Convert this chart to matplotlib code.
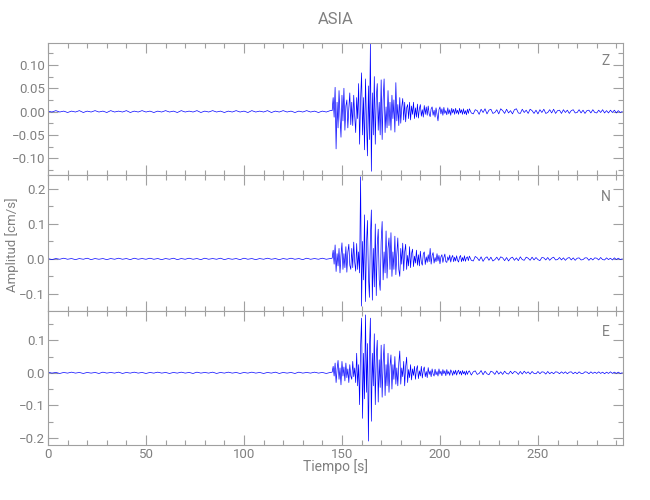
import numpy as np
import matplotlib
matplotlib.use("Agg")
import matplotlib.pyplot as plt
from matplotlib.ticker import MultipleLocator, FixedLocator

# ---------------- data ----------------
title = "ASIA"
components = ["Z", "N", "E"]
xlabel = "Tiempo [s]"
ylabel = "Amplitud [cm/s]"
x_limits = (0, 293.4)
x_ticks = [0, 50, 100, 150, 200, 250]

# sampled segments: (start time [s], sample step [s])
pre_start, pre_step = 0.0, 2.0      # quiet part before the arrival
main_start, main_step = 145.0, 0.5  # strong motion
tail_start, tail_step = 215.0, 1.0  # coda

z_pre = [0.001, -0.001, 0.002, -0.001, 0.001, -0.002, 0.001, -0.001, 0.002, -0.002,
         0.001, -0.001, 0.002, -0.001, 0.001, -0.002, 0.002, -0.001, 0.001, -0.001,
         0.002, -0.002, 0.001, -0.001, 0.002, -0.001, 0.001, -0.002, 0.001, -0.001,
         0.002, -0.001, 0.001, -0.002, 0.002, -0.001, 0.001, -0.001, 0.002, -0.002,
         0.001, -0.001, 0.002, -0.001, 0.001, -0.002, 0.001, -0.001, 0.002, -0.001,
         0.001, -0.002, 0.002, -0.001, 0.001, -0.001, 0.002, -0.002, 0.001, -0.001,
         0.002, -0.001, 0.001, -0.002, 0.001, -0.001, 0.002, -0.001, 0.001, -0.002,
         0.001, -0.001, 0.002]
n_pre = [0.001, -0.002, 0.001, -0.001, 0.002, -0.001, 0.001, -0.002, 0.001, -0.001,
         0.002, -0.002, 0.001, -0.001, 0.001, -0.002, 0.001, -0.001, 0.002, -0.001,
         0.001, -0.002, 0.002, -0.001, 0.001, -0.001, 0.002, -0.001, 0.001, -0.002,
         0.001, -0.001, 0.002, -0.002, 0.001, -0.001, 0.002, -0.001, 0.001, -0.002,
         0.002, -0.001, 0.001, -0.001, 0.002, -0.002, 0.001, -0.001, 0.001, -0.002,
         0.002, -0.001, 0.001, -0.002, 0.001, -0.001, 0.002, -0.001, 0.001, -0.002,
         0.001, -0.001, 0.002, -0.001, 0.001, -0.002, 0.002, -0.001, 0.001, -0.001,
         0.002, -0.001, 0.001]
e_pre = [0.002, -0.001, 0.001, -0.002, 0.001, -0.001, 0.002, -0.001, 0.001, -0.002,
         0.001, -0.001, 0.001, -0.002, 0.002, -0.001, 0.001, -0.001, 0.002, -0.002,
         0.001, -0.001, 0.002, -0.001, 0.001, -0.002, 0.001, -0.001, 0.002, -0.001,
         0.001, -0.002, 0.001, -0.001, 0.002, -0.001, 0.001, -0.002, 0.002, -0.001,
         0.001, -0.001, 0.002, -0.002, 0.001, -0.001, 0.002, -0.001, 0.001, -0.002,
         0.001, -0.001, 0.002, -0.001, 0.001, -0.002, 0.001, -0.001, 0.002, -0.002,
         0.001, -0.001, 0.001, -0.002, 0.002, -0.001, 0.001, -0.001, 0.002, -0.001,
         0.001, -0.002, 0.001]

z_main = [0.002, 0.030, -0.012, 0.052, -0.080, 0.020, -0.035, 0.045, -0.010, -0.055,
          0.035, -0.020, 0.050, -0.040, 0.012, 0.025, -0.035, 0.008, 0.040, -0.028,
          0.020, -0.030, 0.035, -0.010, -0.045, 0.030, -0.015, 0.060, -0.070, 0.025,
          0.083, -0.050, 0.030, -0.082, 0.070, -0.020, -0.095, 0.055, -0.060, 0.145,
          -0.128, 0.040, -0.050, 0.075, -0.070, 0.030, 0.060, -0.040, 0.020, -0.050,
          0.068, -0.060, 0.025, 0.070, -0.045, 0.010, -0.035, 0.045, -0.030, 0.020,
          -0.040, 0.035, -0.015, 0.025, -0.044, 0.062, -0.020, 0.015, -0.030, 0.030,
          -0.025, 0.010, 0.028, -0.018, 0.020, -0.022, 0.008, 0.015, -0.015, 0.020,
          -0.018, 0.012, -0.006, 0.020, -0.015, 0.008, -0.012, 0.016, -0.014, 0.006,
          0.015, -0.010, 0.004, -0.012, 0.013, -0.006, 0.010, -0.008, 0.012, -0.005,
          -0.011, 0.006, 0.010, -0.008, 0.003, -0.012, 0.008, -0.006, -0.020, 0.004,
          0.010, -0.005, 0.006, -0.008, 0.009, -0.004, 0.002, -0.007, 0.008, -0.005,
          0.004, -0.008, 0.007, -0.003, 0.005, -0.006, 0.007, -0.004, 0.003, -0.006,
          0.007, -0.003, 0.004, -0.006, 0.006, -0.005, 0.002, -0.007, 0.005, -0.004]
z_tail = [0.006, -0.003, -0.005, 0.004, 0.002, -0.006, 0.005, -0.002, 0.006, -0.005,
          0.003, 0.005, -0.004, -0.002, 0.004, -0.005, 0.006, 0.002, -0.004, 0.005,
          -0.003, 0.002, -0.005, 0.004, 0.006, -0.003, -0.004, 0.005, -0.002, 0.003,
          -0.004, 0.005, 0.002, -0.004, 0.003, -0.005, 0.004, -0.002, 0.005, -0.004,
          -0.002, 0.004, -0.003, 0.005, -0.004, 0.002, 0.003, -0.004, 0.004, -0.002,
          0.003, -0.004, 0.002, 0.004, -0.003, -0.002, 0.004, -0.003, 0.003, -0.004,
          0.002, 0.003, -0.003, 0.004, -0.002, -0.003, 0.003, -0.002, 0.004, -0.003,
          0.002, -0.003, 0.003, -0.002, 0.003, -0.003, 0.002, -0.002, 0.000]

n_main = [0.002, 0.025, -0.015, 0.040, -0.036, 0.015, -0.020, 0.030, -0.040, 0.010,
          0.046, -0.030, 0.015, -0.025, 0.035, -0.038, 0.020, 0.042, -0.018, -0.030,
          0.030, -0.025, 0.048, -0.010, -0.035, 0.044, -0.030, 0.020, -0.040, 0.235,
          -0.135, 0.050, -0.060, 0.126, -0.122, 0.040, 0.110, -0.050, -0.110, 0.060,
          0.140, -0.118, 0.030, -0.080, 0.100, -0.105, 0.040, 0.085, -0.060, -0.090,
          0.050, 0.107, -0.060, 0.020, -0.040, 0.080, -0.055, 0.030, 0.060, -0.030,
          0.075, -0.050, 0.020, -0.030, 0.065, -0.045, 0.015, 0.060, -0.030, -0.050,
          0.030, -0.015, 0.045, -0.034, 0.020, 0.042, -0.030, 0.010, -0.020, 0.035,
          -0.025, 0.015, 0.028, -0.022, 0.008, -0.012, 0.025, -0.018, 0.012, -0.020,
          0.022, -0.010, -0.018, 0.015, 0.020, -0.016, 0.006, -0.010, 0.012, -0.008,
          0.030, -0.015, 0.010, 0.018, -0.012, 0.004, -0.008, 0.015, -0.006, 0.010,
          -0.014, 0.006, 0.012, -0.010, 0.004, 0.014, -0.008, -0.010, 0.006, -0.004,
          0.011, -0.009, 0.004, 0.010, -0.008, 0.005, -0.006, 0.009, -0.004, -0.009,
          0.005, 0.010, -0.008, 0.004, -0.006, 0.009, -0.007, 0.003, 0.006, -0.005]
n_tail = [0.008, -0.004, -0.006, 0.007, 0.003, -0.005, 0.006, -0.007, 0.002, 0.006,
          -0.004, 0.005, -0.006, -0.002, 0.005, -0.004, 0.006, 0.003, -0.005, 0.004,
          -0.006, 0.002, 0.005, -0.004, 0.003, -0.005, 0.006, -0.002, -0.004, 0.005,
          0.002, -0.004, 0.005, -0.003, 0.004, -0.002, -0.005, 0.004, 0.003, -0.003,
          0.004, -0.004, 0.002, 0.005, -0.003, -0.002, 0.004, -0.003, 0.003, -0.004,
          0.002, 0.004, -0.003, 0.003, -0.004, 0.002, 0.003, -0.003, -0.002, 0.003,
          0.003, -0.004, 0.002, -0.003, 0.003, 0.002, -0.003, 0.004, -0.002, -0.003,
          0.003, -0.002, 0.002, -0.003, 0.003, -0.002, 0.002, -0.002, 0.000]

e_main = [0.002, 0.020, -0.010, 0.030, -0.030, 0.010, 0.038, -0.020, 0.015, -0.037,
          0.035, -0.010, 0.018, -0.025, 0.030, -0.015, 0.012, -0.030, 0.025, -0.010,
          -0.020, 0.035, -0.012, 0.015, -0.030, 0.060, -0.040, 0.025, -0.098, 0.080,
          0.168, -0.140, 0.060, -0.080, 0.178, -0.060, 0.090, -0.210, 0.070, 0.168,
          -0.149, 0.060, -0.040, 0.120, -0.098, 0.050, 0.100, -0.090, 0.040, -0.045,
          0.085, -0.075, 0.030, 0.088, -0.070, 0.025, -0.040, 0.060, -0.060, 0.020,
          0.055, -0.050, 0.025, -0.020, 0.050, -0.035, 0.015, -0.040, 0.030, 0.067,
          -0.035, 0.015, -0.012, 0.035, -0.040, 0.020, 0.048, -0.030, 0.010, -0.015,
          0.025, -0.022, 0.012, -0.008, 0.020, -0.020, 0.010, 0.022, -0.018, 0.006,
          -0.010, 0.020, -0.016, 0.008, 0.018, -0.012, 0.004, -0.015, 0.016, -0.005,
          0.006, -0.012, 0.012, -0.004, -0.010, 0.011, -0.006, 0.004, -0.010, 0.012,
          -0.004, 0.005, -0.009, 0.010, -0.003, 0.006, -0.009, 0.010, -0.004, 0.004,
          -0.008, 0.009, 0.003, -0.008, 0.006, -0.004, 0.008, -0.007, 0.003, 0.008,
          -0.004, 0.005, -0.007, 0.007, -0.003, 0.004, -0.007, 0.006, -0.005, 0.003]
e_tail = [0.006, -0.007, 0.003, 0.006, -0.005, -0.002, 0.007, -0.006, 0.005, -0.003,
          -0.006, 0.005, 0.002, -0.005, 0.006, -0.004, 0.003, -0.005, 0.005, -0.002,
          -0.004, 0.005, -0.003, 0.004, 0.002, -0.005, 0.004, -0.004, 0.005, -0.002,
          0.003, -0.004, 0.004, -0.002, -0.003, 0.004, -0.003, 0.003, 0.002, -0.004,
          0.004, -0.003, 0.002, -0.003, 0.003, 0.002, -0.003, 0.003, -0.002, 0.003,
          -0.003, 0.002, 0.003, -0.003, 0.002, -0.003, 0.003, -0.002, -0.002, 0.003,
          0.002, -0.003, 0.003, -0.002, 0.002, -0.002, 0.003, -0.002, 0.002, -0.003,
          0.002, -0.002, 0.003, -0.002, 0.002, -0.002, 0.002, -0.002, 0.000]

y_limits = [(-0.136, 0.147), (-0.149, 0.240), (-0.222, 0.190)]
y_minor = [0.025, 0.05, 0.05]
y_ticklabels = [["-0.10", "-0.05", "0.00", "0.05", "0.10", "0.15"],
                ["-0.1", "0.0", "0.1", "0.2"],
                ["-0.2", "-0.1", "0.0", "0.1"]]

traces = [(z_pre, z_main, z_tail), (n_pre, n_main, n_tail), (e_pre, e_main, e_tail)]

# ---------------- style ----------------
FONT = ["Roboto", "DejaVu Sans"]
plt.rcParams["font.family"] = FONT
plt.rcParams["font.weight"] = "normal"
GREY = "#808080"
AXGREY = "#a0a0a0"
LINE = "#0000ff"

W, H = 650, 500
fig = plt.figure(figsize=(W / 100, H / 100), dpi=100)

left_px, right_px = 48, 623
panel_px = [(43, 175), (175, 311), (311, 445)]

for i, (top, bot) in enumerate(panel_px):
    ax = fig.add_axes([left_px / W, 1 - bot / H, (right_px - left_px) / W, (bot - top) / H])
    pre, main, tail = traces[i]
    t = np.concatenate([pre_start + pre_step * np.arange(len(pre)),
                        main_start + main_step * np.arange(len(main)),
                        tail_start + tail_step * np.arange(len(tail))])
    v = np.concatenate([pre, main, tail])
    ax.plot(t, v, color=LINE, lw=0.5)
    ax.set_xlim(*x_limits)
    ax.set_ylim(*y_limits[i])
    ax.xaxis.set_major_locator(FixedLocator(x_ticks))
    ax.xaxis.set_minor_locator(MultipleLocator(10))
    vals = [float(s) for s in y_ticklabels[i]]
    ax.yaxis.set_major_locator(FixedLocator(vals))
    ax.set_yticklabels([s.replace("-", "\u2212") for s in y_ticklabels[i]])
    ax.yaxis.set_minor_locator(MultipleLocator(y_minor[i]))
    ax.tick_params(which="both", direction="in", top=True, right=True,
                   color=AXGREY, labelcolor=GREY, labelsize=9.5, width=0.8)
    ax.tick_params(which="major", length=7.2, pad=2)
    ax.tick_params(which="minor", length=3.6)
    for s in ax.spines.values():
        s.set_color(AXGREY)
        s.set_linewidth(0.8)
    if i < 2:
        ax.tick_params(labelbottom=False)
    else:
        ax.set_xticklabels([str(x) for x in x_ticks])
    ax.text(0.97, [0.864, 0.838, 0.843][i], components[i], transform=ax.transAxes,
            ha="center", va="center", color=GREY, fontsize=10)

fig.text(0.5 * (left_px + right_px) / W, 1 - 20 / H, title, ha="center", va="center",
         color=GREY, fontsize=12)
fig.text(0.5 * (left_px + right_px) / W, 1 - 467 / H, xlabel, ha="center", va="center",
         color=GREY, fontsize=10)
fig.text(12 / W, 1 - 245 / H, ylabel, ha="center", va="center", rotation=90,
         color=GREY, fontsize=9.5)

fig.savefig("out.png", dpi=100)
